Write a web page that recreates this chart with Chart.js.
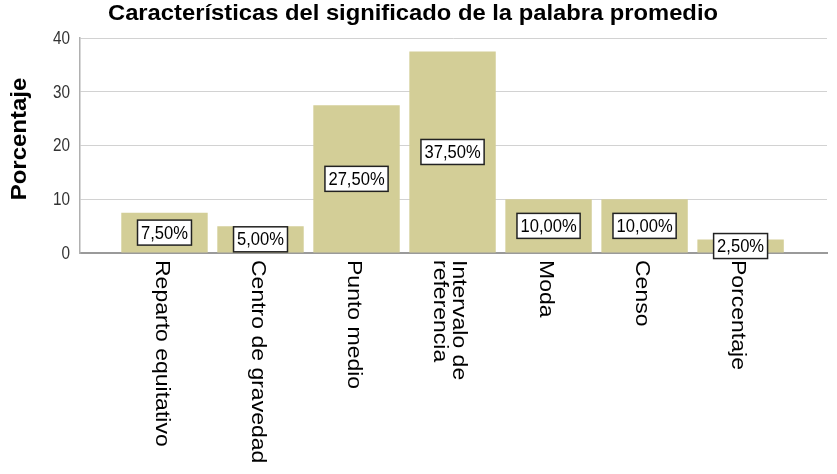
<!DOCTYPE html>
<html>
<head>
<meta charset="utf-8">
<script src="https://cdn.jsdelivr.net/npm/chart.js@4"></script>
<style>
  body { margin: 0; background: #fff; }
  #chart { display: block; }
</style>
</head>
<body>
<canvas id="chart" width="837" height="474"></canvas>
<script>
const categories = ['Reparto equitativo', 'Centro de gravedad', 'Punto medio', ['Intervalo de', 'referencia'], 'Moda', 'Censo', 'Porcentaje'];
const percentages = [7.5, 5, 27.5, 37.5, 10, 10, 2.5];
const yTicks = [0, 10, 20, 30, 40];
const chartTitle = 'Características del significado de la palabra promedio';
const yTitle = 'Porcentaje';

const FONT = "'Liberation Sans', Arial, sans-serif";

// text drawing for titles, ticks, category labels and value boxes
const textPlugin = {
    id: 'spssText',
    afterDraw(chart) {
        const ctx = chart.ctx;
        const x = chart.scales.x;
        const y = chart.scales.y;
        const area = chart.chartArea;

        // title, squeezed a little like the source image
        ctx.save();
        ctx.fillStyle = '#000';
        ctx.font = 'bold 22px ' + FONT;
        ctx.textAlign = 'center';
        ctx.textBaseline = 'alphabetic';
        const tw = ctx.measureText(chartTitle).width;
        ctx.translate(413, 20);
        ctx.scale(610 / tw, 1);
        ctx.fillText(chartTitle, 0, 0);
        ctx.restore();

        // y axis title
        ctx.save();
        ctx.fillStyle = '#000';
        ctx.font = 'bold 24px ' + FONT;
        ctx.textAlign = 'center';
        ctx.textBaseline = 'middle';
        ctx.translate(20, 139);
        ctx.rotate(-Math.PI / 2);
        ctx.scale(1, 0.9);
        ctx.fillText(yTitle, 0, 0);
        ctx.restore();

        // y ticks
        ctx.save();
        ctx.fillStyle = '#333';
        ctx.font = '18px ' + FONT;
        ctx.textAlign = 'right';
        ctx.textBaseline = 'middle';
        yTicks.forEach(function (t) {
            ctx.save();
            ctx.translate(area.left - 10, y.getPixelForValue(t) + 1);
            ctx.scale(0.85, 1);
            ctx.fillText(String(t), 0, 0);
            ctx.restore();
        });
        ctx.restore();

        // category labels, rotated clockwise
        ctx.save();
        ctx.fillStyle = '#000';
        ctx.font = '23px ' + FONT;
        ctx.textAlign = 'left';
        ctx.textBaseline = 'middle';
        categories.forEach(function (c, i) {
            const lines = Array.isArray(c) ? c : [c];
            const lh = 21;
            ctx.save();
            ctx.translate(x.getPixelForValue(i + 1) - 3, area.bottom + 7);
            ctx.rotate(Math.PI / 2);
            ctx.scale(1, 0.9);
            lines.forEach(function (line, j) {
                ctx.fillText(line, 0, (j - (lines.length - 1) / 2) * lh);
            });
            ctx.restore();
        });
        ctx.restore();

        // value boxes in the middle of each bar
        const meta = chart.getDatasetMeta(0);
        ctx.save();
        ctx.font = '18px ' + FONT;
        ctx.textAlign = 'center';
        ctx.textBaseline = 'middle';
        meta.data.forEach(function (bar, i) {
            const p = bar.getCenterPoint();
            const label = percentages[i].toFixed(2).replace('.', ',') + '%';
            const w = ctx.measureText(label).width * 0.92 + 7;
            const h = 25;
            ctx.fillStyle = '#fff';
            ctx.fillRect(p.x - w / 2, p.y - h / 2, w, h);
            ctx.strokeStyle = '#222';
            ctx.lineWidth = 1.5;
            ctx.strokeRect(p.x - w / 2, p.y - h / 2, w, h);
            ctx.fillStyle = '#000';
            ctx.save();
            ctx.translate(p.x, p.y + 1);
            ctx.scale(0.92, 1);
            ctx.fillText(label, 0, 0);
            ctx.restore();
        });
        ctx.restore();
    }
};

const ctx = document.getElementById('chart').getContext('2d');
const chart = new Chart(ctx, {
    type: 'bar',
    data: {
        datasets: [{
            data: percentages.map(function (v, i) { return { x: i + 1, y: v }; }),
            backgroundColor: '#d3ce97',
            borderWidth: 0,
            barPercentage: 0.9,
            categoryPercentage: 1
        }]
    },
    options: {
        responsive: false,
        animation: false,
        devicePixelRatio: 1,
        layout: {
            padding: { top: 38, bottom: 221, left: 0, right: 10 }
        },
        plugins: {
            legend: { display: false },
            title: { display: false },
            tooltip: { enabled: false }
        },
        scales: {
            x: {
                type: 'linear',
                min: 0.12,
                max: 7.9,
                offset: false,
                // one tick per category so the bar width follows the category spacing
                afterBuildTicks: function (scale) {
                    scale.ticks = categories.map(function (c, i) { return { value: i + 1 }; });
                },
                ticks: { display: false },
                grid: { display: false, drawTicks: false },
                border: { display: true, color: '#9a9a9a', width: 2 },
                afterFit: function (scale) { scale.height = 0; }
            },
            y: {
                min: 0,
                max: 40,
                ticks: { display: false, stepSize: 10 },
                grid: { color: '#d2d2d2', drawTicks: false },
                border: { display: true, color: '#b0b0b0', width: 1.5 },
                afterFit: function (scale) { scale.width = 80; }
            }
        }
    },
    plugins: [textPlugin]
});
</script>
</body>
</html>
